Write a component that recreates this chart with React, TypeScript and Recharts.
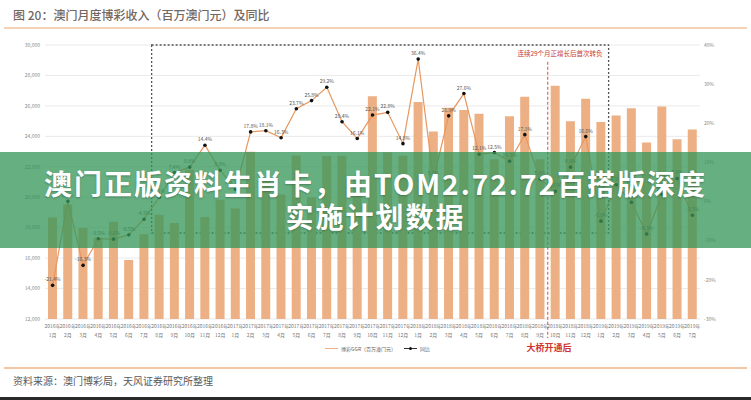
import {
  ComposedChart, Bar, Line, XAxis, YAxis, CartesianGrid,
  ReferenceArea, ReferenceLine, LabelList,
} from "recharts";

const MONTHS = [
  "2016年1月", "2016年2月", "2016年3月", "2016年4月", "2016年5月", "2016年6月",
  "2016年7月", "2016年8月", "2016年9月", "2016年10月", "2016年11月", "2016年12月",
  "2017年1月", "2017年2月", "2017年3月", "2017年4月", "2017年5月", "2017年6月",
  "2017年7月", "2017年8月", "2017年9月", "2017年10月", "2017年11月", "2017年12月",
  "2018年1月", "2018年2月", "2018年3月", "2018年4月", "2018年5月", "2018年6月",
  "2018年7月", "2018年8月", "2018年9月", "2018年10月", "2018年11月", "2018年12月",
  "2019年1月", "2019年2月", "2019年3月", "2019年4月", "2019年5月", "2019年6月",
  "2019年7月",
];

// 博彩收入（百万澳门元）
const GGR = [
  18672, 19521, 17974, 17348, 18382, 15882, 17574, 18843, 18300, 21807, 18702, 19834,
  19255, 22994, 21227, 20176, 22736, 19990, 22706, 22720, 21246, 26626, 22962, 22732,
  26260, 24314, 25882, 25730, 25491, 22490, 25327, 26601, 22487, 27328, 24994, 26468,
  24942, 25370, 25840, 23588, 25952, 23812, 24453,
];

// 同比 (%)
const YOY = [
  -21.4, 0.1, -16.3, -9.5, -9.6, -8.5, -4.5, 1.1, 7.4, 8.8, 14.4, 8.0,
  3.1, 17.8, 18.1, 16.3, 23.7, 25.8, 29.2, 20.4, 16.1, 22.1, 22.8, 14.8,
  36.4, 5.7, 21.9, 27.6, 12.1, 12.5, 10.3, 17.1, 5.8, 2.6, 8.8, 16.6,
  -5.0, 4.3, -0.2, -8.3, 1.8, 5.9, -3.5,
];

const LEFT_TICKS = [12000, 14000, 16000, 18000, 20000, 22000, 24000, 26000, 28000, 30000];
const RIGHT_TICKS = [-30, -20, -10, 0, 10, 20, 30, 40];

const BOX_FROM = "2016年8月";
const BOX_TO = "2019年1月";
const BOX_BOTTOM = 17650;
const BRIDGE_MONTH = "2018年10月";

const data = MONTHS.map((m, i) => ({ month: m, ggr: GGR[i], yoy: YOY[i] }));

const CJK = '"Noto Sans CJK SC", "Noto Sans", sans-serif';

function MonthTick({ x, y, payload }: any) {
  const [yr, mo] = String(payload.value).split("年");
  return (
    <g transform={`translate(${x},${y})`}>
      <text textAnchor="middle" fontSize={5} fill="#777" fontFamily={CJK}>
        <tspan x={0} dy={5}>{yr}年</tspan>
        <tspan x={0} dy={9}>{mo}</tspan>
      </text>
    </g>
  );
}

export default function App() {
  return (
    <div style={{ position: "fixed", left: 0, top: 0, width: 751, height: 400, background: "#fff", overflow: "hidden", fontFamily: CJK }}>
      <div style={{ position: "absolute", left: 13, top: 6, fontSize: 12, color: "#73675f", fontWeight: 500 }}>
        图 20：澳门月度博彩收入（百万澳门元）及同比
      </div>
      <div style={{ position: "absolute", left: 4, top: 27, width: 743, height: 2, background: "#f4d2b8" }} />

      <div style={{ position: "absolute", left: 0, top: 0 }}>
        <ComposedChart width={751} height={345} data={data} margin={{ top: 45, right: 0, bottom: 0, left: 0 }}>
          <CartesianGrid yAxisId="left" vertical={false} stroke="#eaeaea" />
          <XAxis
            dataKey="month"
            interval={0}
            height={26}
            tick={<MonthTick />}
            tickLine={false}
            axisLine={false}
            tickSize={0}
            tickMargin={4}
          />
          <YAxis
            yAxisId="left"
            domain={[12000, 30000]}
            ticks={LEFT_TICKS}
            width={45}
            tickSize={0}
            tickMargin={5}
            axisLine={false}
            tickLine={false}
            tick={{ fontSize: 5, fill: "#888" }}
            tickFormatter={(v: number) => v.toLocaleString("en-US")}
          />
          <YAxis
            yAxisId="right"
            orientation="right"
            domain={[-30, 40]}
            ticks={RIGHT_TICKS}
            width={51}
            tickSize={0}
            tickMargin={4}
            axisLine={false}
            tickLine={false}
            tick={{ fontSize: 5, fill: "#888" }}
            tickFormatter={(v: number) => `${v}%`}
          />
          <Bar yAxisId="left" dataKey="ggr" fill="#edb084" barSize={9} isAnimationActive={false} />
          <Line
            yAxisId="right"
            dataKey="yoy"
            stroke="#e8965e"
            strokeWidth={1.2}
            dot={{ r: 1.8, fill: "#111", stroke: "none" }}
            isAnimationActive={false}
          >
            <LabelList
              dataKey="yoy"
              position="top"
              offset={4}
              fontSize={5}
              fill="#555"
              formatter={(v: any) => `${Number(v).toFixed(1)}%`}
            />
          </Line>
          <ReferenceArea
            yAxisId="left"
            x1={BOX_FROM}
            x2={BOX_TO}
            y1={BOX_BOTTOM}
            y2={30000}
            ifOverflow="visible"
            fill="none"
            stroke="#555"
            strokeWidth={1.3}
            strokeDasharray="2 2"
            label={{
              value: "连续29个月正增长后首次转负",
              position: "insideTopRight",
              offset: 6,
              fontSize: 6.5,
              fill: "#c83a32",
            }}
          />
          <ReferenceLine
            yAxisId="left"
            segment={[{ x: BRIDGE_MONTH, y: 28900 }, { x: BRIDGE_MONTH, y: 10750 }]}
            position="start"
            ifOverflow="visible"
            stroke="#e07a7a"
            strokeWidth={1.4}
            strokeDasharray="3 2"
          />
        </ComposedChart>
      </div>

      <div style={{ position: "absolute", left: 522, top: 341, width: 54, textAlign: "center", fontSize: 9, color: "#d0342c", fontWeight: 700 }}>
        大桥开通后
      </div>

      <div style={{ position: "absolute", left: 325, top: 345, display: "flex", alignItems: "center", fontSize: 5, color: "#666" }}>
        <span style={{ display: "inline-block", width: 13, height: 1.5, background: "#edb084", marginRight: 3 }} />
        <span>博彩GGR（百万澳门元）</span>
        <span style={{ display: "inline-block", position: "relative", width: 13, height: 1, background: "#333", marginLeft: 8, marginRight: 3 }}>
          <span style={{ position: "absolute", left: 5, top: -1.5, width: 3, height: 3, borderRadius: 2, background: "#111" }} />
        </span>
        <span>同比</span>
      </div>

      <div style={{ position: "absolute", left: 4, top: 367, width: 743, height: 1.5, background: "#f2c7a6" }} />
      <div style={{ position: "absolute", left: 13, top: 373, fontSize: 10, color: "#5a5a5a" }}>
        资料来源：澳门博彩局，天风证券研究所整理
      </div>
      <div style={{ position: "absolute", left: 0, top: 397, width: 751, height: 3, background: "#2a2a2a" }} />

      <div
        style={{
          position: "absolute", left: 0, top: 152, width: 751, height: 96,
          background: "rgba(52,150,90,0.76)", color: "#fff", fontWeight: 700,
          fontSize: 28, letterSpacing: 2, lineHeight: "33px", textAlign: "center",
          display: "flex", flexDirection: "column", justifyContent: "center",
          textShadow: "0 1px 2px rgba(0,0,0,0.25)",
        }}
      >
        <div>澳门正版资料生肖卡，由TOM2.72.72百搭版深度</div>
        <div>实施计划数据</div>
      </div>
    </div>
  );
}
